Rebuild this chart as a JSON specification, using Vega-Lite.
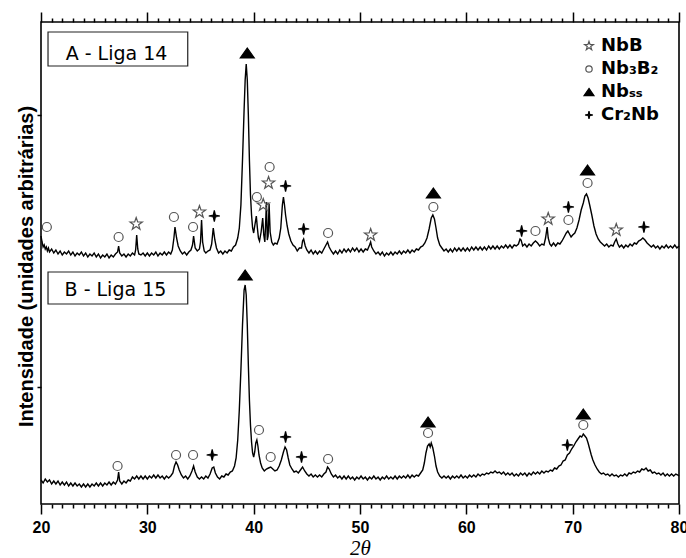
{
"$schema": "https://vega.github.io/schema/vega-lite/v6.json",
"width": 638, "height": 482,
"autosize": {"type": "none"},
"padding": {"left": 41, "top": 22, "right": 7, "bottom": 54},
"background": "white",
"config": {"view": {"stroke": "#000", "strokeWidth": 1.6}, "font": "Liberation Sans"},
"datasets": {
"liga14": [
{"t":20,"i":268},{"t":20.1,"i":262},{"t":20.2,"i":257},{"t":20.3,"i":259},{"t":20.4,"i":255},{"t":20.5,"i":257},{"t":20.6,"i":253},{"t":20.7,"i":256},{"t":20.8,"i":252},{"t":21,"i":255},{"t":21.2,"i":251},{"t":21.4,"i":254},{"t":21.6,"i":250},{"t":21.8,"i":253},{"t":22,"i":249},{"t":22.2,"i":252},{"t":22.4,"i":250},{"t":22.6,"i":253},{"t":22.8,"i":249},{"t":23,"i":252},{"t":23.2,"i":248},{"t":23.4,"i":251},{"t":23.6,"i":249},{"t":23.8,"i":252},{"t":24,"i":248},{"t":24.2,"i":251},{"t":24.4,"i":247},{"t":24.6,"i":250},{"t":24.8,"i":248},{"t":25,"i":251},{"t":25.2,"i":247},{"t":25.4,"i":250},{"t":25.6,"i":246},{"t":25.8,"i":249},{"t":26,"i":247},{"t":26.2,"i":250},{"t":26.4,"i":246},{"t":26.6,"i":249},{"t":26.8,"i":247},{"t":27,"i":250},{"t":27.2,"i":252},{"t":27.3,"i":258},{"t":27.4,"i":251},{"t":27.6,"i":248},{"t":27.8,"i":250},{"t":28,"i":247},{"t":28.2,"i":250},{"t":28.4,"i":248},{"t":28.6,"i":251},{"t":28.8,"i":249},{"t":28.9,"i":254},{"t":29,"i":269},{"t":29.1,"i":255},{"t":29.2,"i":250},{"t":29.4,"i":249},{"t":29.6,"i":251},{"t":29.8,"i":248},{"t":30,"i":251},{"t":30.2,"i":248},{"t":30.4,"i":251},{"t":30.6,"i":249},{"t":30.8,"i":252},{"t":31,"i":248},{"t":31.2,"i":251},{"t":31.4,"i":249},{"t":31.6,"i":252},{"t":31.8,"i":249},{"t":32,"i":252},{"t":32.2,"i":250},{"t":32.35,"i":254},{"t":32.5,"i":266},{"t":32.6,"i":277},{"t":32.75,"i":266},{"t":32.9,"i":258},{"t":33.1,"i":253},{"t":33.3,"i":250},{"t":33.5,"i":252},{"t":33.7,"i":249},{"t":33.9,"i":252},{"t":34.1,"i":254},{"t":34.25,"i":259},{"t":34.35,"i":268},{"t":34.5,"i":256},{"t":34.7,"i":253},{"t":34.9,"i":255},{"t":35,"i":262},{"t":35.1,"i":284},{"t":35.2,"i":262},{"t":35.35,"i":253},{"t":35.5,"i":251},{"t":35.7,"i":253},{"t":35.9,"i":254},{"t":36.05,"i":260},{"t":36.2,"i":276},{"t":36.35,"i":264},{"t":36.5,"i":256},{"t":36.7,"i":251},{"t":36.9,"i":253},{"t":37.1,"i":250},{"t":37.3,"i":253},{"t":37.5,"i":251},{"t":37.7,"i":254},{"t":37.9,"i":253},{"t":38.1,"i":257},{"t":38.3,"i":259},{"t":38.5,"i":266},{"t":38.65,"i":276},{"t":38.8,"i":299},{"t":38.95,"i":344},{"t":39.1,"i":394},{"t":39.2,"i":424},{"t":39.3,"i":440},{"t":39.4,"i":424},{"t":39.5,"i":389},{"t":39.6,"i":344},{"t":39.7,"i":309},{"t":39.8,"i":289},{"t":39.9,"i":276},{"t":40,"i":271},{"t":40.1,"i":278},{"t":40.25,"i":288},{"t":40.35,"i":276},{"t":40.45,"i":266},{"t":40.55,"i":263},{"t":40.7,"i":272},{"t":40.85,"i":286},{"t":40.95,"i":269},{"t":41.05,"i":262},{"t":41.12,"i":279},{"t":41.2,"i":302},{"t":41.28,"i":264},{"t":41.36,"i":268},{"t":41.45,"i":300},{"t":41.55,"i":272},{"t":41.7,"i":262},{"t":41.85,"i":259},{"t":42,"i":261},{"t":42.2,"i":260},{"t":42.4,"i":266},{"t":42.55,"i":276},{"t":42.7,"i":299},{"t":42.8,"i":307},{"t":42.9,"i":299},{"t":43,"i":289},{"t":43.15,"i":278},{"t":43.3,"i":270},{"t":43.5,"i":263},{"t":43.7,"i":259},{"t":43.9,"i":257},{"t":44.1,"i":253},{"t":44.3,"i":256},{"t":44.5,"i":256},{"t":44.6,"i":263},{"t":44.7,"i":265},{"t":44.85,"i":258},{"t":45,"i":254},{"t":45.2,"i":251},{"t":45.4,"i":254},{"t":45.6,"i":250},{"t":45.8,"i":253},{"t":46,"i":250},{"t":46.2,"i":253},{"t":46.4,"i":251},{"t":46.6,"i":255},{"t":46.8,"i":259},{"t":46.95,"i":262},{"t":47.1,"i":257},{"t":47.3,"i":253},{"t":47.5,"i":250},{"t":47.7,"i":253},{"t":47.9,"i":250},{"t":48.1,"i":254},{"t":48.3,"i":251},{"t":48.5,"i":255},{"t":48.7,"i":252},{"t":48.9,"i":255},{"t":49.1,"i":252},{"t":49.3,"i":256},{"t":49.5,"i":253},{"t":49.7,"i":256},{"t":49.9,"i":252},{"t":50.1,"i":255},{"t":50.3,"i":252},{"t":50.5,"i":255},{"t":50.7,"i":254},{"t":50.9,"i":259},{"t":51,"i":262},{"t":51.1,"i":257},{"t":51.3,"i":253},{"t":51.5,"i":250},{"t":51.7,"i":252},{"t":51.9,"i":249},{"t":52.1,"i":252},{"t":52.3,"i":248},{"t":52.5,"i":251},{"t":52.7,"i":249},{"t":52.9,"i":252},{"t":53.1,"i":249},{"t":53.3,"i":252},{"t":53.5,"i":250},{"t":53.7,"i":253},{"t":53.9,"i":250},{"t":54.1,"i":253},{"t":54.3,"i":251},{"t":54.5,"i":254},{"t":54.7,"i":251},{"t":54.9,"i":254},{"t":55.1,"i":252},{"t":55.3,"i":255},{"t":55.5,"i":254},{"t":55.7,"i":257},{"t":55.9,"i":258},{"t":56.1,"i":261},{"t":56.3,"i":266},{"t":56.5,"i":275},{"t":56.7,"i":286},{"t":56.85,"i":289},{"t":57,"i":285},{"t":57.15,"i":276},{"t":57.3,"i":266},{"t":57.5,"i":259},{"t":57.7,"i":256},{"t":57.9,"i":253},{"t":58.1,"i":255},{"t":58.3,"i":252},{"t":58.5,"i":255},{"t":58.7,"i":252},{"t":58.9,"i":256},{"t":59.1,"i":253},{"t":59.3,"i":256},{"t":59.5,"i":253},{"t":59.7,"i":256},{"t":59.9,"i":253},{"t":60.1,"i":256},{"t":60.3,"i":253},{"t":60.5,"i":257},{"t":60.7,"i":254},{"t":60.9,"i":257},{"t":61.1,"i":254},{"t":61.3,"i":257},{"t":61.5,"i":254},{"t":61.7,"i":257},{"t":61.9,"i":254},{"t":62.1,"i":258},{"t":62.3,"i":255},{"t":62.5,"i":258},{"t":62.7,"i":255},{"t":62.9,"i":258},{"t":63.1,"i":255},{"t":63.3,"i":258},{"t":63.5,"i":256},{"t":63.7,"i":259},{"t":63.9,"i":256},{"t":64.1,"i":259},{"t":64.3,"i":256},{"t":64.5,"i":259},{"t":64.7,"i":258},{"t":64.9,"i":260},{"t":65.05,"i":265},{"t":65.15,"i":264},{"t":65.3,"i":258},{"t":65.5,"i":260},{"t":65.7,"i":257},{"t":65.9,"i":260},{"t":66.1,"i":258},{"t":66.3,"i":261},{"t":66.5,"i":263},{"t":66.7,"i":261},{"t":66.9,"i":258},{"t":67.1,"i":260},{"t":67.3,"i":259},{"t":67.45,"i":266},{"t":67.6,"i":277},{"t":67.7,"i":266},{"t":67.85,"i":260},{"t":68,"i":258},{"t":68.2,"i":261},{"t":68.4,"i":258},{"t":68.6,"i":261},{"t":68.8,"i":260},{"t":69,"i":263},{"t":69.2,"i":267},{"t":69.4,"i":271},{"t":69.55,"i":273},{"t":69.7,"i":270},{"t":69.85,"i":267},{"t":70,"i":269},{"t":70.2,"i":271},{"t":70.4,"i":276},{"t":70.6,"i":284},{"t":70.8,"i":294},{"t":71,"i":301},{"t":71.15,"i":308},{"t":71.3,"i":310},{"t":71.45,"i":306},{"t":71.6,"i":299},{"t":71.8,"i":289},{"t":72,"i":278},{"t":72.2,"i":270},{"t":72.4,"i":265},{"t":72.6,"i":262},{"t":72.8,"i":260},{"t":73,"i":258},{"t":73.2,"i":260},{"t":73.4,"i":257},{"t":73.6,"i":259},{"t":73.8,"i":258},{"t":73.95,"i":262},{"t":74.1,"i":265},{"t":74.25,"i":260},{"t":74.4,"i":257},{"t":74.6,"i":259},{"t":74.8,"i":256},{"t":75,"i":259},{"t":75.2,"i":257},{"t":75.4,"i":260},{"t":75.6,"i":258},{"t":75.8,"i":261},{"t":76,"i":260},{"t":76.2,"i":263},{"t":76.4,"i":264},{"t":76.6,"i":266},{"t":76.8,"i":264},{"t":77,"i":261},{"t":77.2,"i":259},{"t":77.4,"i":257},{"t":77.6,"i":259},{"t":77.8,"i":256},{"t":78,"i":258},{"t":78.2,"i":255},{"t":78.4,"i":258},{"t":78.6,"i":256},{"t":78.8,"i":259},{"t":79,"i":256},{"t":79.2,"i":258},{"t":79.4,"i":256},{"t":79.6,"i":259},{"t":79.8,"i":256},{"t":80,"i":258}
],
"liga15": [
{"t":20,"i":24},{"t":20.2,"i":21},{"t":20.4,"i":25},{"t":20.6,"i":22},{"t":20.8,"i":24},{"t":21,"i":20},{"t":21.2,"i":23},{"t":21.4,"i":20},{"t":21.6,"i":23},{"t":21.8,"i":19},{"t":22,"i":22},{"t":22.2,"i":19},{"t":22.4,"i":22},{"t":22.6,"i":18},{"t":22.8,"i":21},{"t":23,"i":18},{"t":23.2,"i":21},{"t":23.4,"i":18},{"t":23.6,"i":20},{"t":23.8,"i":17},{"t":24,"i":20},{"t":24.2,"i":17},{"t":24.4,"i":20},{"t":24.6,"i":17},{"t":24.8,"i":20},{"t":25,"i":18},{"t":25.2,"i":21},{"t":25.4,"i":18},{"t":25.6,"i":21},{"t":25.8,"i":18},{"t":26,"i":21},{"t":26.2,"i":19},{"t":26.4,"i":22},{"t":26.6,"i":19},{"t":26.8,"i":22},{"t":27,"i":20},{"t":27.2,"i":24},{"t":27.3,"i":32},{"t":27.4,"i":23},{"t":27.6,"i":20},{"t":27.8,"i":23},{"t":28,"i":21},{"t":28.2,"i":24},{"t":28.4,"i":23},{"t":28.6,"i":27},{"t":28.8,"i":25},{"t":29,"i":28},{"t":29.2,"i":25},{"t":29.4,"i":28},{"t":29.6,"i":25},{"t":29.8,"i":28},{"t":30,"i":25},{"t":30.2,"i":28},{"t":30.4,"i":26},{"t":30.6,"i":29},{"t":30.8,"i":26},{"t":31,"i":29},{"t":31.2,"i":26},{"t":31.4,"i":28},{"t":31.6,"i":25},{"t":31.8,"i":28},{"t":32,"i":26},{"t":32.2,"i":28},{"t":32.4,"i":31},{"t":32.55,"i":38},{"t":32.7,"i":42},{"t":32.85,"i":39},{"t":33,"i":34},{"t":33.2,"i":29},{"t":33.4,"i":26},{"t":33.6,"i":28},{"t":33.8,"i":25},{"t":34,"i":28},{"t":34.2,"i":33},{"t":34.35,"i":38},{"t":34.5,"i":32},{"t":34.7,"i":27},{"t":34.9,"i":25},{"t":35.1,"i":27},{"t":35.3,"i":25},{"t":35.5,"i":28},{"t":35.7,"i":26},{"t":35.9,"i":30},{"t":36.1,"i":36},{"t":36.25,"i":37},{"t":36.4,"i":31},{"t":36.6,"i":27},{"t":36.8,"i":25},{"t":37,"i":28},{"t":37.2,"i":27},{"t":37.4,"i":30},{"t":37.6,"i":29},{"t":37.8,"i":32},{"t":38,"i":33},{"t":38.2,"i":38},{"t":38.35,"i":46},{"t":38.5,"i":64},{"t":38.65,"i":94},{"t":38.8,"i":134},{"t":38.95,"i":179},{"t":39.1,"i":214},{"t":39.2,"i":219},{"t":39.3,"i":209},{"t":39.4,"i":179},{"t":39.5,"i":139},{"t":39.6,"i":104},{"t":39.7,"i":79},{"t":39.8,"i":62},{"t":39.9,"i":51},{"t":40,"i":47},{"t":40.1,"i":52},{"t":40.2,"i":61},{"t":40.3,"i":64},{"t":40.4,"i":58},{"t":40.5,"i":49},{"t":40.65,"i":41},{"t":40.8,"i":36},{"t":41,"i":33},{"t":41.2,"i":35},{"t":41.4,"i":36},{"t":41.6,"i":37},{"t":41.8,"i":35},{"t":42,"i":33},{"t":42.2,"i":34},{"t":42.4,"i":38},{"t":42.6,"i":44},{"t":42.8,"i":52},{"t":42.95,"i":57},{"t":43.1,"i":54},{"t":43.25,"i":46},{"t":43.4,"i":39},{"t":43.6,"i":35},{"t":43.8,"i":32},{"t":44,"i":33},{"t":44.2,"i":31},{"t":44.4,"i":34},{"t":44.6,"i":37},{"t":44.8,"i":33},{"t":45,"i":30},{"t":45.2,"i":28},{"t":45.4,"i":30},{"t":45.6,"i":27},{"t":45.8,"i":29},{"t":46,"i":27},{"t":46.2,"i":29},{"t":46.4,"i":27},{"t":46.6,"i":30},{"t":46.8,"i":32},{"t":46.95,"i":37},{"t":47.1,"i":35},{"t":47.3,"i":30},{"t":47.5,"i":27},{"t":47.7,"i":29},{"t":47.9,"i":26},{"t":48.1,"i":28},{"t":48.3,"i":25},{"t":48.5,"i":28},{"t":48.7,"i":25},{"t":48.9,"i":28},{"t":49.1,"i":25},{"t":49.3,"i":27},{"t":49.5,"i":24},{"t":49.7,"i":27},{"t":49.9,"i":25},{"t":50.1,"i":28},{"t":50.3,"i":25},{"t":50.5,"i":27},{"t":50.7,"i":24},{"t":50.9,"i":27},{"t":51.1,"i":25},{"t":51.3,"i":28},{"t":51.5,"i":25},{"t":51.7,"i":27},{"t":51.9,"i":24},{"t":52.1,"i":27},{"t":52.3,"i":25},{"t":52.5,"i":28},{"t":52.7,"i":25},{"t":52.9,"i":27},{"t":53.1,"i":25},{"t":53.3,"i":28},{"t":53.5,"i":25},{"t":53.7,"i":28},{"t":53.9,"i":26},{"t":54.1,"i":28},{"t":54.3,"i":26},{"t":54.5,"i":29},{"t":54.7,"i":26},{"t":54.9,"i":29},{"t":55.1,"i":27},{"t":55.3,"i":29},{"t":55.5,"i":28},{"t":55.7,"i":31},{"t":55.9,"i":34},{"t":56.05,"i":41},{"t":56.2,"i":51},{"t":56.35,"i":58},{"t":56.5,"i":60},{"t":56.6,"i":57},{"t":56.7,"i":61},{"t":56.85,"i":56},{"t":57,"i":48},{"t":57.15,"i":38},{"t":57.3,"i":32},{"t":57.5,"i":28},{"t":57.7,"i":26},{"t":57.9,"i":28},{"t":58.1,"i":26},{"t":58.3,"i":28},{"t":58.5,"i":25},{"t":58.7,"i":28},{"t":58.9,"i":26},{"t":59.1,"i":28},{"t":59.3,"i":26},{"t":59.5,"i":29},{"t":59.7,"i":26},{"t":59.9,"i":28},{"t":60.1,"i":26},{"t":60.3,"i":29},{"t":60.5,"i":27},{"t":60.7,"i":29},{"t":60.9,"i":27},{"t":61.1,"i":30},{"t":61.3,"i":28},{"t":61.5,"i":30},{"t":61.7,"i":29},{"t":61.9,"i":31},{"t":62.1,"i":30},{"t":62.3,"i":32},{"t":62.5,"i":31},{"t":62.7,"i":33},{"t":62.9,"i":31},{"t":63.1,"i":32},{"t":63.3,"i":30},{"t":63.5,"i":32},{"t":63.7,"i":29},{"t":63.9,"i":31},{"t":64.1,"i":29},{"t":64.3,"i":31},{"t":64.5,"i":28},{"t":64.7,"i":30},{"t":64.9,"i":28},{"t":65.1,"i":31},{"t":65.3,"i":29},{"t":65.5,"i":31},{"t":65.7,"i":28},{"t":65.9,"i":31},{"t":66.1,"i":29},{"t":66.3,"i":32},{"t":66.5,"i":30},{"t":66.7,"i":32},{"t":66.9,"i":30},{"t":67.1,"i":33},{"t":67.3,"i":31},{"t":67.5,"i":33},{"t":67.7,"i":32},{"t":67.9,"i":34},{"t":68.1,"i":33},{"t":68.3,"i":36},{"t":68.5,"i":35},{"t":68.7,"i":38},{"t":68.9,"i":39},{"t":69.1,"i":43},{"t":69.3,"i":44},{"t":69.5,"i":49},{"t":69.7,"i":51},{"t":69.9,"i":55},{"t":70.1,"i":58},{"t":70.3,"i":62},{"t":70.5,"i":65},{"t":70.7,"i":68},{"t":70.85,"i":67},{"t":71,"i":70},{"t":71.15,"i":68},{"t":71.3,"i":66},{"t":71.45,"i":61},{"t":71.6,"i":55},{"t":71.75,"i":49},{"t":71.9,"i":44},{"t":72.1,"i":39},{"t":72.3,"i":35},{"t":72.5,"i":32},{"t":72.7,"i":30},{"t":72.9,"i":31},{"t":73.1,"i":29},{"t":73.3,"i":30},{"t":73.5,"i":28},{"t":73.7,"i":30},{"t":73.9,"i":28},{"t":74.1,"i":29},{"t":74.3,"i":27},{"t":74.5,"i":29},{"t":74.7,"i":28},{"t":74.9,"i":30},{"t":75.1,"i":28},{"t":75.3,"i":31},{"t":75.5,"i":30},{"t":75.7,"i":32},{"t":75.9,"i":31},{"t":76.1,"i":33},{"t":76.3,"i":32},{"t":76.5,"i":35},{"t":76.7,"i":34},{"t":76.9,"i":36},{"t":77.1,"i":33},{"t":77.3,"i":34},{"t":77.5,"i":31},{"t":77.7,"i":32},{"t":77.9,"i":30},{"t":78.1,"i":31},{"t":78.3,"i":29},{"t":78.5,"i":31},{"t":78.7,"i":28},{"t":78.9,"i":30},{"t":79.1,"i":28},{"t":79.3,"i":30},{"t":79.5,"i":28},{"t":79.7,"i":30},{"t":79.9,"i":29},{"t":80,"i":28}
],
"boxes": [
{"label":"A - Liga 14","t1":20.66,"t2":33.8,"v1":438,"v2":472,"tt":27.1,"tv":444.5},
{"label":"B - Liga 15","t1":20.66,"t2":33.8,"v1":200,"v2":232,"tt":27.0,"tv":208}
],
"marcas": [
{"t":20.55,"v":277,"p":"Nb₃B₂"},{"t":27.3,"v":267,"p":"Nb₃B₂"},{"t":28.95,"v":280,"p":"NbB"},{"t":32.5,"v":287,"p":"Nb₃B₂"},{"t":34.3,"v":277,"p":"Nb₃B₂"},{"t":34.9,"v":292,"p":"NbB"},{"t":36.3,"v":288,"p":"Cr₂Nb"},{"t":39.4,"v":451,"p":"Nbₛₛ"},{"t":40.3,"v":307,"p":"Nb₃B₂"},{"t":40.9,"v":299,"p":"NbB"},{"t":41.4,"v":321,"p":"NbB"},{"t":41.5,"v":337,"p":"Nb₃B₂"},{"t":43.0,"v":318,"p":"Cr₂Nb"},{"t":44.7,"v":275,"p":"Cr₂Nb"},{"t":47.0,"v":271,"p":"Nb₃B₂"},{"t":51.0,"v":269,"p":"NbB"},{"t":56.9,"v":311,"p":"Nbₛₛ"},{"t":56.9,"v":297,"p":"Nb₃B₂"},{"t":65.2,"v":273,"p":"Cr₂Nb"},{"t":66.5,"v":273,"p":"Nb₃B₂"},{"t":67.7,"v":285,"p":"NbB"},{"t":69.6,"v":297,"p":"Cr₂Nb"},{"t":69.6,"v":284,"p":"Nb₃B₂"},{"t":71.4,"v":334,"p":"Nbₛₛ"},{"t":71.4,"v":321,"p":"Nb₃B₂"},{"t":74.1,"v":274,"p":"NbB"},{"t":76.7,"v":277,"p":"Cr₂Nb"},
{"t":27.2,"v":38,"p":"Nb₃B₂"},{"t":32.7,"v":49,"p":"Nb₃B₂"},{"t":34.3,"v":49,"p":"Nb₃B₂"},{"t":36.1,"v":49,"p":"Cr₂Nb"},{"t":39.2,"v":229,"p":"Nbₛₛ"},{"t":40.5,"v":74,"p":"Nb₃B₂"},{"t":41.6,"v":47,"p":"Nb₃B₂"},{"t":43.0,"v":67,"p":"Cr₂Nb"},{"t":44.5,"v":47,"p":"Cr₂Nb"},{"t":47.0,"v":45,"p":"Nb₃B₂"},{"t":56.4,"v":82,"p":"Nbₛₛ"},{"t":56.4,"v":71,"p":"Nb₃B₂"},{"t":69.5,"v":59,"p":"Cr₂Nb"},{"t":71.0,"v":90,"p":"Nbₛₛ"},{"t":71.0,"v":79,"p":"Nb₃B₂"}
]
},
"resolve": {"axis": {"x": "independent", "y": "independent"}},
"layer": [
{
"data": {"name": "liga14"},
"mark": {"type": "line", "color": "#000", "strokeWidth": 1.4},
"encoding": {
"x": {"field": "t", "type": "quantitative", "scale": {"domain": [20, 80], "nice": false, "zero": false},
"axis": {"orient": "bottom", "values": [20,21,22,23,24,25,26,27,28,29,30,31,32,33,34,35,36,37,38,39,40,41,42,43,44,45,46,47,48,49,50,51,52,53,54,55,56,57,58,59,60,61,62,63,64,65,66,67,68,69,70,71,72,73,74,75,76,77,78,79,80],
"domain": false, "grid": false, "tickColor": "#000", "tickWidth": 1.5,
"tickSize": {"condition": {"test": "datum.value % 10 === 0", "value": 10}, "value": 4},
"labelExpr": "datum.value % 10 === 0 ? datum.label : ''",
"labelFont": "Liberation Sans", "labelFontWeight": "bold", "labelFontSize": 16, "labelColor": "#000",
"labelBaseline": "alphabetic", "labelPadding": 18, "labelOverlap": false, "labelFlush": false,
"title": "2θ", "titleFont": "Liberation Serif", "titleFontStyle": "italic", "titleFontWeight": "normal", "titleFontSize": 21, "titleColor": "#000",
"titleBaseline": "alphabetic", "titleAlign": "center", "titleX": 319, "titleY": 50}},
"y": {"field": "i", "type": "quantitative", "scale": {"domain": [0, 482], "nice": false, "zero": false},
"axis": {"orient": "left", "values": [117, 389], "domain": false, "labels": false, "grid": false, "tickSize": 4, "tickWidth": 1.5, "tickColor": "#000",
"title": "Intensidade (unidades arbitrárias)", "titleFont": "Liberation Sans", "titleFontWeight": "bold", "titleFontSize": 20, "titleColor": "#000",
"titleBaseline": "alphabetic", "titleAlign": "center", "titleAngle": -90, "titleX": -9, "titleY": 244}}
}
},
{
"data": {"name": "liga15"},
"mark": {"type": "line", "color": "#000", "strokeWidth": 1.4},
"encoding": {
"x": {"field": "t", "type": "quantitative", "scale": {"domain": [20, 80], "nice": false, "zero": false},
"axis": {"orient": "top", "values": [20,21,22,23,24,25,26,27,28,29,30,31,32,33,34,35,36,37,38,39,40,41,42,43,44,45,46,47,48,49,50,51,52,53,54,55,56,57,58,59,60,61,62,63,64,65,66,67,68,69,70,71,72,73,74,75,76,77,78,79,80],
"domain": false, "grid": false, "labels": false, "title": null, "tickColor": "#000", "tickWidth": 1.5,
"tickSize": {"condition": {"test": "datum.value % 10 === 0", "value": 10}, "value": 4}}},
"y": {"field": "i", "type": "quantitative", "scale": {"domain": [0, 482], "nice": false, "zero": false}, "axis": null}
}
},
{
"data": {"name": "boxes"},
"mark": {"type": "rect", "fill": "#fff", "stroke": "#222", "strokeWidth": 1.2},
"encoding": {
"x": {"field": "t1", "type": "quantitative", "axis": null},
"x2": {"field": "t2"},
"y": {"field": "v1", "type": "quantitative", "axis": null},
"y2": {"field": "v2"}
}
},
{
"data": {"name": "boxes"},
"mark": {"type": "text", "font": "DejaVu Sans", "fontSize": 19, "color": "#000", "align": "center", "baseline": "alphabetic"},
"encoding": {
"x": {"field": "tt", "type": "quantitative", "axis": null},
"y": {"field": "tv", "type": "quantitative", "axis": null},
"text": {"field": "label"}
}
},
{
"data": {"name": "marcas"},
"mark": {"type": "point", "size": 100, "strokeWidth": 1.2, "opacity": 1, "filled": true},
"encoding": {
"x": {"field": "t", "type": "quantitative", "axis": null},
"y": {"field": "v", "type": "quantitative", "axis": null},
"shape": {"field": "p", "type": "nominal",
"scale": {"domain": ["NbB", "Nb₃B₂", "Nbₛₛ", "Cr₂Nb"], "range": ["M0,-1.3L0.306,-0.421L1.236,-0.402L0.494,0.161L0.764,1.052L0,0.52L-0.764,1.052L-0.494,0.161L-1.236,-0.402L-0.306,-0.421Z", "M0.9,0A0.9,0.9,0,1,1,-0.9,0A0.9,0.9,0,1,1,0.9,0Z", "M0,-1L1.4,1L-1.4,1Z", "M0,-1.1L0.2,-0.2L1.1,0L0.2,0.2L0,1.1L-0.2,0.2L-1.1,0L-0.2,-0.2Z"]},
"legend": {"title": null, "orient": "none", "legendX": 539, "legendY": 15, "padding": 0, "labelFont": "DejaVu Sans", "labelFontWeight": "bold", "labelFontSize": 18, "labelColor": "#000", "symbolSize": 50, "symbolStrokeWidth": 1.2, "rowPadding": 5, "labelOffset": 3}},
"fill": {"field": "p", "type": "nominal",
"scale": {"domain": ["NbB", "Nb₃B₂", "Nbₛₛ", "Cr₂Nb"], "range": ["transparent", "transparent", "#000", "#000"]},
"legend": {"title": null, "orient": "none", "legendX": 539, "legendY": 15, "padding": 0, "labelFont": "DejaVu Sans", "labelFontWeight": "bold", "labelFontSize": 18, "labelColor": "#000", "symbolSize": 50, "symbolStrokeWidth": 1.2, "rowPadding": 5, "labelOffset": 3}},
"stroke": {"field": "p", "type": "nominal",
"scale": {"domain": ["NbB", "Nb₃B₂", "Nbₛₛ", "Cr₂Nb"], "range": ["#555", "#555", "#000", "#000"]},
"legend": {"title": null, "orient": "none", "legendX": 539, "legendY": 15, "padding": 0, "labelFont": "DejaVu Sans", "labelFontWeight": "bold", "labelFontSize": 18, "labelColor": "#000", "symbolSize": 50, "symbolStrokeWidth": 1.2, "rowPadding": 5, "labelOffset": 3}}
}
}
]
}
